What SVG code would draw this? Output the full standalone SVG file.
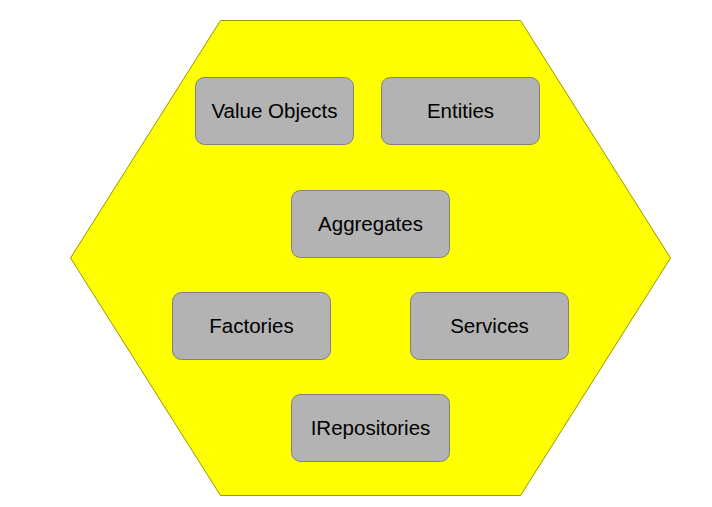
<svg xmlns="http://www.w3.org/2000/svg" width="712" height="507" viewBox="0 0 712 507">
<style>
.box{fill:#b3b3b3;stroke:#808080;stroke-width:1}
.lbl{font-family:"Liberation Sans",Arial,sans-serif;font-size:20.5px;fill:#000;text-anchor:middle;dominant-baseline:central}
</style>
<rect width="712" height="507" fill="#ffffff"/>
<g id="domain">
<polygon points="220.5,20.5 520.5,20.5 670.5,258 520.5,495.5 220.5,495.5 70.5,258" fill="#ffff00" stroke="#999900" stroke-width="1"/>
</g>
<g id="value-objects"><rect class="box" x="195.5" y="77.5" width="158" height="67" rx="9"/><text class="lbl" x="274.5" y="110">Value Objects</text></g>
<g id="entities"><rect class="box" x="381.5" y="77.5" width="158" height="67" rx="9"/><text class="lbl" x="460.5" y="110">Entities</text></g>
<g id="aggregates"><rect class="box" x="291.5" y="190.5" width="158" height="67" rx="9"/><text class="lbl" x="370.5" y="223">Aggregates</text></g>
<g id="factories"><rect class="box" x="172.5" y="292.5" width="158" height="67" rx="9"/><text class="lbl" x="251.5" y="325">Factories</text></g>
<g id="services"><rect class="box" x="410.5" y="292.5" width="158" height="67" rx="9"/><text class="lbl" x="489.5" y="325">Services</text></g>
<g id="irepositories"><rect class="box" x="291.5" y="394.5" width="158" height="67" rx="9"/><text class="lbl" x="370.5" y="427">IRepositories</text></g>
<g id="connectors"></g>
</svg>
